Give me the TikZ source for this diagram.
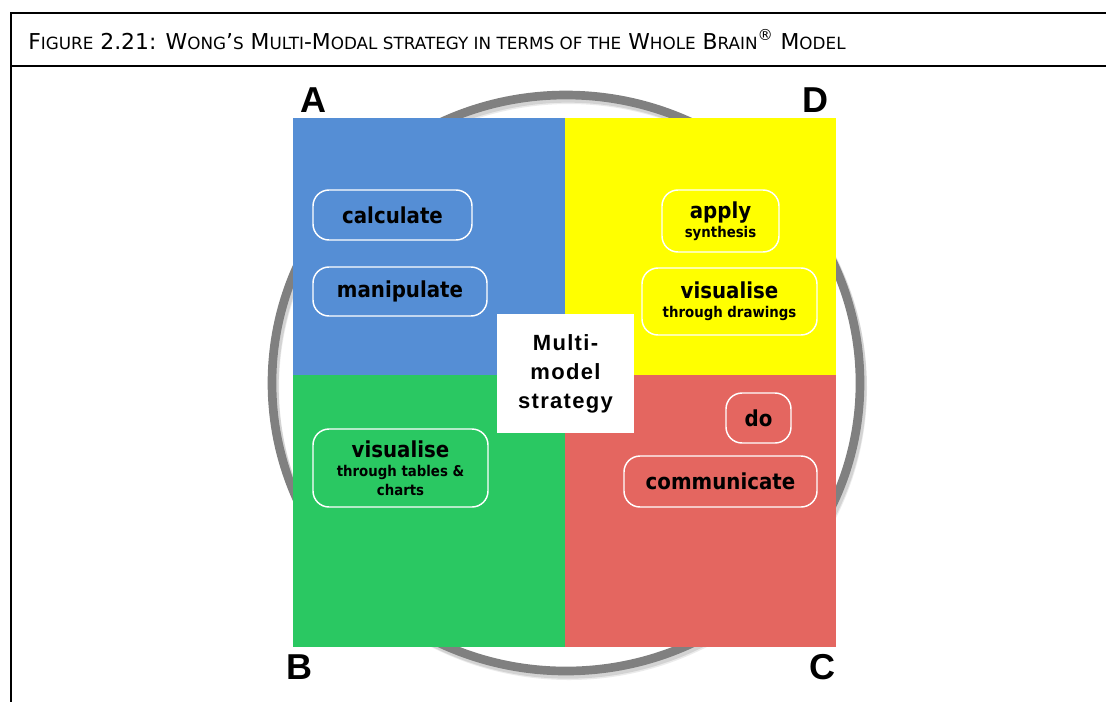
\documentclass[tikz,border=0pt]{standalone}
\usepackage{fontspec}
\setmainfont{DejaVu Sans}
\newfontfamily\titlefont{DejaVu Sans}
\newfontfamily\boxfont{DejaVu Sans}[FakeStretch=0.9]
\newfontfamily\quadfont{Liberation Sans}
\newfontfamily\centrefont{Liberation Sans}[LetterSpace=6]

\definecolor{quadA}{RGB}{85,142,213}
\definecolor{quadD}{RGB}{255,255,0}
\definecolor{quadB}{RGB}{42,200,98}
\definecolor{quadC}{RGB}{228,102,96}
\definecolor{ringgrey}{RGB}{128,128,128}

% caps and small caps of the caption
\newcommand\capsz{\fontsize{16.4pt}{19pt}\selectfont}
\newcommand\smc[1]{{\fontsize{12.6pt}{19pt}\selectfont #1}}
\newcommand\bigtxt{\fontsize{16.5pt}{14.25pt}\selectfont}
\newcommand\smalltxt{\fontsize{11.1pt}{14.25pt}\selectfont}

\begin{document}
\begin{tikzpicture}[x=0.75pt,y=-0.75pt,
  frameline/.style={line width=1.5pt,line cap=rect},
  quadletter/.style={font=\quadfont\bfseries\fontsize{27pt}{30pt}\selectfont,anchor=base,inner sep=0pt},
  pill/.style={draw=white,line width=1.1pt,rounded corners=12pt,inner sep=0pt,
    align=center,text=black,font=\boxfont\bfseries\bigtxt},
]
\useasboundingbox (0,0) rectangle (1106,701);

% caption frame
\draw[frameline] (11,701) -- (11,13) -- (1106,13);
\draw[frameline] (11,66) -- (1106,66);
\node[anchor=base west,inner sep=0pt,font=\titlefont\capsz] (caption) at (28,49)
  {F\smc{IGURE} 2.21: W\smc{ONG}’\smc{S} M\smc{ULTI}-M\smc{ODAL STRATEGY IN TERMS OF THE} W\smc{HOLE} B\smc{RAIN}\textsuperscript{®} M\smc{ODEL}};

% ring behind the quadrants, with a soft shadow
\coordinate (ctr) at (566,383);
\draw[black,opacity=0.10,line width=7pt] ([shift={(2,3)}]ctr) ellipse [x radius=220.5pt,y radius=216pt];
\draw[black,opacity=0.08,line width=6pt] ([shift={(3,5)}]ctr) ellipse [x radius=220.5pt,y radius=216pt];
\draw[ringgrey,line width=6.5pt] (ctr) ellipse [x radius=220.5pt,y radius=216pt];

% the four quadrants
\fill[quadA] (293,118) rectangle (564.5,375);
\fill[quadD] (564.5,118) rectangle (836,375);
\fill[quadB] (293,375) rectangle (564.5,647);
\fill[quadC] (564.5,375) rectangle (836,647);

% quadrant letters
\node[quadletter] (A) at (313.7,112) {A};
\node[quadletter] (D) at (815.5,112) {D};
\node[quadletter] (B) at (299,679) {B};
\node[quadletter] (C) at (822.5,679) {C};

% centre box
\node[fill=white,minimum width=102.75pt,minimum height=89.25pt,inner sep=0pt,align=center,
  font=\centrefont\bfseries\fontsize{16.5pt}{21.75pt}\selectfont] (centre) at (565.5,373.5)
  {Multi-\\model\\strategy};

% quadrant A
\node[pill,minimum width=119.25pt,minimum height=37.5pt] (calc) at (392.5,215) {calculate};
\node[pill,minimum width=130.5pt,minimum height=36.75pt] (manip) at (400,291.5) {manipulate};

% quadrant D
\node[pill,minimum width=87.75pt,minimum height=46.5pt] (apply) at (720.5,221)
  {\fontsize{16.5pt}{13.5pt}\selectfont apply\\{\smalltxt synthesis}};
\node[pill,minimum width=131.25pt,minimum height=50.25pt] (draw) at (729.5,301.5)
  {visualise\\{\smalltxt through drawings}};

% quadrant C
\node[pill,minimum width=48.75pt,minimum height=37.5pt] (do) at (758.5,418) {do};
\node[pill,minimum width=144.75pt,minimum height=38.25pt] (comm) at (720.5,481.5) {communicate};

% quadrant B
\node[pill,minimum width=131.25pt,minimum height=58.5pt] (tables) at (400.5,468)
  {visualise\\{\smalltxt through tables \&}\\{\smalltxt charts}};
\end{tikzpicture}
\end{document}
